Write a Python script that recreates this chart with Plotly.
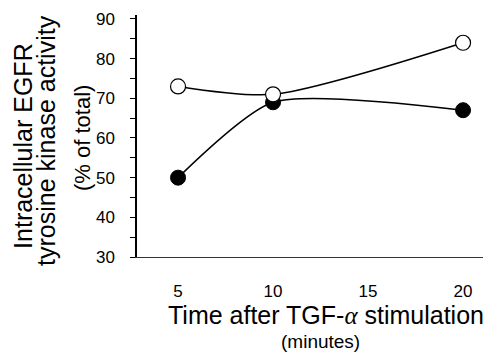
import plotly.graph_objects as go

time_min = [5, 10, 20]
open_vals = [73, 71, 84]
filled_vals = [50, 69, 67]
y_ticks = [30, 40, 50, 60, 70, 80, 90]
x_ticks = [5, 10, 15, 20]

fig = go.Figure()
fig.add_trace(go.Scatter(
    x=time_min, y=filled_vals, mode="lines+markers",
    line=dict(color="black", width=1.5, shape="spline", smoothing=0.65),
    marker=dict(symbol="circle", size=15, color="black", line=dict(color="black", width=1)),
    showlegend=False))
fig.add_trace(go.Scatter(
    x=time_min, y=open_vals, mode="lines+markers",
    line=dict(color="black", width=1.5, shape="spline", smoothing=0.75),
    marker=dict(symbol="circle", size=15, color="white", line=dict(color="black", width=1.2)),
    showlegend=False))

L, T, W, H = 137, 13, 346, 244
fig.update_layout(
    width=493, height=356,
    margin=dict(l=L, r=493 - L - W, t=T, b=356 - T - H),
    paper_bgcolor="white", plot_bgcolor="white",
    font=dict(family="Liberation Sans, Arial, sans-serif", color="black"),
    xaxis=dict(range=[2.84, 21.05], tickvals=x_ticks, ticks="", showgrid=False,
               zeroline=False, showline=True, linecolor="#333", linewidth=1.2,
               tickfont=dict(size=17), ticklabelstandoff=18),
    yaxis=dict(range=[30, 91], tickvals=y_ticks, ticks="outside", ticklen=5,
               tickwidth=1, tickcolor="black", showgrid=False, zeroline=False,
               showline=True, linecolor="black", linewidth=1.5,
               tickfont=dict(size=17), ticklabelstandoff=12,
               minor=dict(tickvals=[35, 45, 55, 65, 75, 85], ticks="outside",
                          ticklen=5, tickcolor="black")),
)

def px_x(p):
    return (p - L) / W

def px_y(p):
    return (T + H - p) / H

annos = [
    dict(text="Intracellular EGFR", x=px_x(23), y=px_y(145), size=25, angle=-90),
    dict(text="tyrosine kinase activity", x=px_x(46), y=px_y(140), size=25, angle=-90),
    dict(text="(% of total)", x=px_x(83), y=px_y(137), size=22, angle=-90),
    dict(text="Time after TGF-<span style='font-family:Liberation Serif, Times New Roman, serif;font-style:italic'>α</span> stimulation",
         x=px_x(326), y=px_y(315), size=25, angle=0),
    dict(text="(minutes)", x=px_x(320), y=px_y(342), size=19, angle=0),
]
for a in annos:
    fig.add_annotation(text=a["text"], xref="paper", yref="paper", x=a["x"], y=a["y"],
                       xanchor="center", yanchor="middle", showarrow=False,
                       textangle=a["angle"], font=dict(size=a["size"], color="black"))

fig.write_html("out.html", config={"displayModeBar": False},
               post_script="document.body.style.margin='0';")
